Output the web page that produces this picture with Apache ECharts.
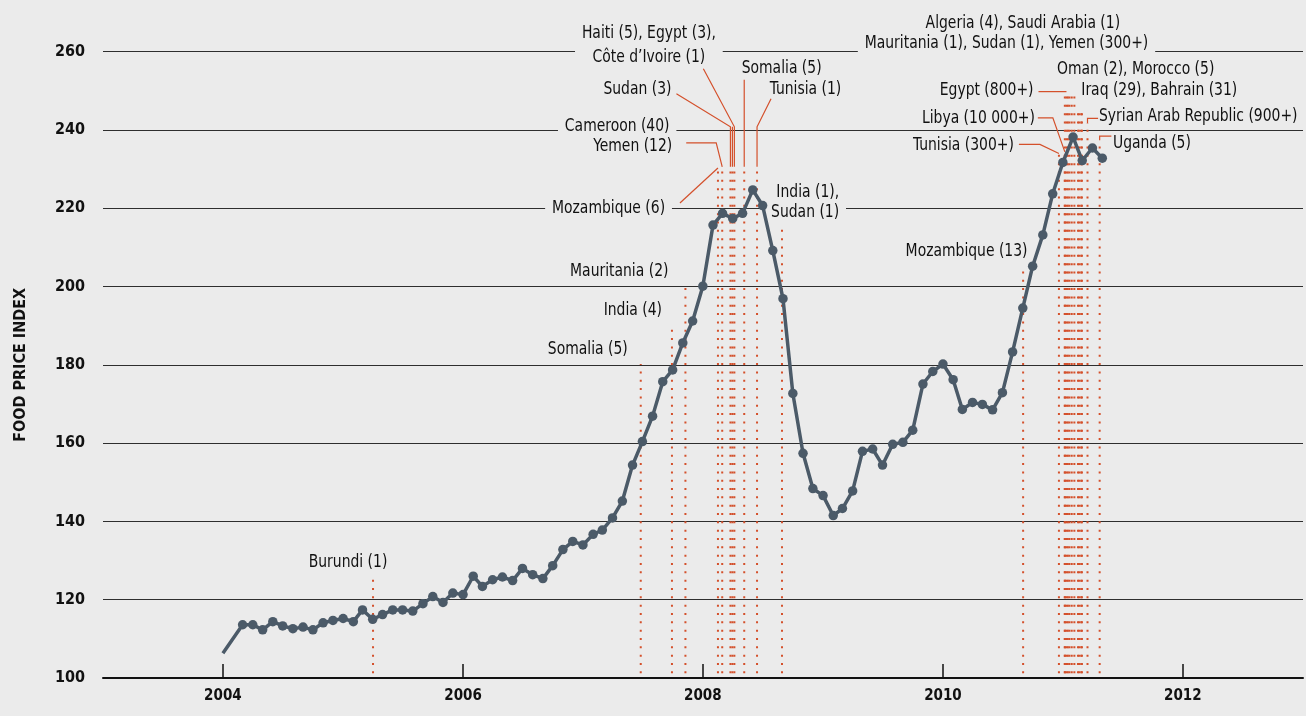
<!DOCTYPE html>
<html>
<head>
<meta charset="utf-8">
<script src="https://cdn.jsdelivr.net/npm/echarts@6/dist/echarts.min.js"></script>
<style>
html,body{margin:0;padding:0;background:#ebebeb;}
#c{width:1306px;height:716px;}
</style>
</head>
<body>
<div id="c"></div>
<script>
// ---------- DATA ----------
const foodMonths = [
  '2004-01','2004-03','2004-04','2004-05','2004-06','2004-07','2004-08','2004-09','2004-10','2004-11','2004-12',
  '2005-01','2005-02','2005-03','2005-04','2005-05','2005-06','2005-07','2005-08','2005-09','2005-10','2005-11','2005-12',
  '2006-01','2006-02','2006-03','2006-04','2006-05','2006-06','2006-07','2006-08','2006-09','2006-10','2006-11','2006-12',
  '2007-01','2007-02','2007-03','2007-04','2007-05','2007-06','2007-07','2007-08','2007-09','2007-10','2007-11','2007-12',
  '2008-01','2008-02','2008-03','2008-04','2008-05','2008-06','2008-07','2008-08','2008-09','2008-10','2008-11','2008-12',
  '2009-01','2009-02','2009-03','2009-04','2009-05','2009-06','2009-07','2009-08','2009-09','2009-10','2009-11','2009-12',
  '2010-01','2010-02','2010-03','2010-04','2010-05','2010-06','2010-07','2010-08','2010-09','2010-10','2010-11','2010-12',
  '2011-01','2011-02','2011-03','2011-04','2011-05'
];
const foodIndex = [
  106.3,113.6,113.6,112.3,114.4,113.3,112.6,113.0,112.3,114.1,114.7,
  115.2,114.4,117.4,115.0,116.2,117.4,117.4,117.1,119.0,120.8,119.3,121.7,
  121.3,126.0,123.4,125.1,125.8,124.9,128.0,126.4,125.4,128.7,132.8,134.9,
  134.0,136.7,137.8,140.9,145.2,154.4,160.4,166.9,175.7,178.7,185.6,191.2,
  200.1,215.7,218.7,217.4,218.7,224.7,220.7,209.2,196.9,172.7,157.4,148.4,
  146.6,141.5,143.3,147.8,157.9,158.5,154.4,159.7,160.2,163.3,175.1,178.3,
  180.2,176.2,168.6,170.4,169.9,168.5,172.9,183.3,194.5,205.2,213.2,223.7,
  231.7,238.2,232.2,235.4,232.8
];
const tickYears = [2004, 2006, 2008, 2010, 2012];
const yTicks = [100, 120, 140, 160, 180, 200, 220, 240, 260];

const riotLabels = [
  'Burundi (1)',
  'Somalia (5)',
  'India (4)',
  'Mauritania (2)',
  'Mozambique (6)',
  'Yemen (12)',
  'Sudan (3)',
  'Cameroon (40)',
  'Haiti (5), Egypt (3),\nCôte d’Ivoire (1)',
  'Somalia (5)',
  'Tunisia (1)',
  'India (1),\nSudan (1)',
  'Mozambique (13)',
  'Tunisia (300+)',
  'Libya (10 000+)',
  'Egypt (800+)',
  'Algeria (4), Saudi Arabia (1)',
  'Mauritania (1), Sudan (1), Yemen (300+)',
  'Oman (2), Morocco (5)',
  'Iraq (29), Bahrain (31)',
  'Syrian Arab Republic (900+)',
  'Uganda (5)'
];
const riotDates = [
  ['2005-04-02'],
  ['2007-06-26'],
  ['2007-09-29'],
  ['2007-11-09'],
  ['2008-02-16'],
  ['2008-02-29'],
  ['2008-03-25'],
  ['2008-03-31'],
  ['2008-04-06'],
  ['2008-05-06'],
  ['2008-06-14'],
  ['2008-08-29'],
  ['2010-09-02'],
  ['2010-12-20'],
  ['2011-01-07'],
  ['2011-01-12'],
  ['2011-01-07','2011-01-21'],
  ['2011-01-16','2011-01-28','2011-02-05'],
  ['2011-02-16','2011-02-26'],
  ['2011-02-20','2011-02-28'],
  ['2011-03-17'],
  ['2011-04-23']
];

// ---------- LAYOUT (annotation placement, pixels relative to line top) ----------
const riotLayout = [
  {top:125.3, dx:-25, dy:-17, align:'center'},
  {top:180.2, dx:-13, dy:-15, align:'right'},
  {top:190.3, dx:-10, dy:-14, align:'right'},
  {top:200.1, dx:-17, dy:-15, align:'right'},
  {top:230.3, dx:-46, dy:40, align:'right', bg:true, leader:[[-38,35]]},
  {top:230.6, dx:-50, dy:-20, align:'right', leader:[[-6,-24],[-36,-24]]},
  {top:230.6, dx:-59, dy:-77, align:'right', leader:[[0,-40],[-54,-73]]},
  {top:230.6, dx:-56, dy:-40, align:'right', bg:true, leader:[[0,-40]]},
  {top:230.6, dx:-85.5, dy:-121, align:'center', bg:true, lh:24, leader:[[0,-40],[-31,-98]]},
  {top:230.6, dx:37.4, dy:-98.4, align:'center', leader:[[0,-87]]},
  {top:230.6, dx:12.7, dy:-77, align:'left', leader:[[0,-40],[14,-68]]},
  {top:215.3, dx:64, dy:-24, align:'right', bg:true, lh:20},
  {top:205.1, dx:4.4, dy:-15, align:'right'},
  {top:234.0, dx:-45, dy:-8, align:'right', leader:[[-19,-9],[-40,-9]]},
  {top:234.4, dx:-30, dy:-34, align:'right', leader:[[-12,-34],[-27,-34]]},
  {top:249.8, dx:-33, dy:-1, align:'right', leader:[[-28,0]]},
  {top:249.8, dx:-42, dy:-68.4, align:'center', bg:true},
  {top:249.8, dx:-61.3, dy:-48.4, align:'center', bg:true},
  {top:245.1, dx:57.7, dy:-40.7, align:'center'},
  {top:244.6, dx:2, dy:-22, align:'left'},
  {top:241.7, dx:11.5, dy:-6.6, align:'left', leader:[[0,-5],[10.6,-5]]},
  {top:237.4, dx:13.3, dy:3.3, align:'left', leader:[[0,-4],[11.7,-4]]}
];

const FONT = "'Liberation Sans Narrow', 'DejaVu Sans Condensed', sans-serif";
const RED = '#d4502b';
const LINE = '#4b5a68';
const BG = '#ebebeb';
const BOTTOM = 101.2;
const LABEL_SQUEEZE = 0.86;

function parseDay(s) {
  const p = s.split('-').map(Number);
  return new Date(p[0], p[1] - 1, p[2] || 1).getTime();
}

const chart = echarts.init(document.getElementById('c'), null, {renderer: 'canvas'});

const lineData = foodMonths.map((m, i) => ({
  value: [parseDay(m), foodIndex[i]],
  symbol: i === 0 ? 'none' : 'circle'
}));

const riotData = riotLabels.map((_, i) => [parseDay(riotDates[i][0]), riotLayout[i].top, i]);

function renderRiot(params, api) {
  const i = params.dataIndex;
  const L = riotLayout[i];
  const children = [];
  const t0 = api.coord([parseDay(riotDates[i][0]), L.top]);
  children.push({
    type: 'text',
    x: t0[0] + L.dx,
    y: t0[1] + L.dy,
    scaleX: LABEL_SQUEEZE,
    style: {
      text: riotLabels[i],
      font: '18px ' + FONT,
      fill: '#111',
      align: L.align,
      verticalAlign: 'middle',
      lineHeight: L.lh || 20,
      backgroundColor: L.bg ? BG : null,
      padding: L.bg ? [0, 8] : 0
    }
  });
  riotDates[i].forEach(d => {
    const b = api.coord([parseDay(d), BOTTOM]);
    const t = api.coord([parseDay(d), L.top]);
    children.push({
      type: 'line',
      shape: {x1: b[0], y1: b[1], x2: t[0], y2: t[1]},
      style: {stroke: RED, lineWidth: 2, lineDash: [2, 6.33]}
    });
  });
  if (L.leader) {
    const pts = [[t0[0], t0[1]]].concat(L.leader.map(p => [t0[0] + p[0], t0[1] + p[1]]));
    children.push({
      type: 'polyline',
      shape: {points: pts},
      style: {stroke: RED, lineWidth: 1.2, fill: null}
    });
  }
  return {type: 'group', children: children};
}

const yearTicks = tickYears.map(y => parseDay(y + '-01-01'));

chart.setOption({
  animation: false,
  backgroundColor: BG,
  grid: {left: 103, right: 3, top: 51.7, bottom: 38, containLabel: false},
  xAxis: {
    type: 'value',
    min: parseDay('2003-01-01'),
    max: parseDay('2013-01-01'),
    axisLine: {show: true, lineStyle: {color: '#111', width: 2}},
    axisTick: {show: true, inside: true, length: 14, lineStyle: {color: '#111', width: 1.5}, customValues: yearTicks},
    axisLabel: {
      customValues: yearTicks,
      formatter: v => String(new Date(v).getFullYear()),
      fontFamily: FONT, fontSize: 15, fontWeight: 'bold', color: '#111', margin: 11
    },
    splitLine: {show: false}
  },
  yAxis: {
    type: 'value',
    min: yTicks[0],
    max: yTicks[yTicks.length - 1],
    interval: 20,
    name: 'FOOD PRICE INDEX',
    nameLocation: 'middle',
    nameRotate: 90,
    nameGap: 74,
    nameTextStyle: {fontFamily: FONT, fontSize: 16, fontWeight: 'bold', color: '#111'},
    axisLine: {show: false},
    axisTick: {show: false},
    axisLabel: {fontFamily: FONT, fontSize: 16, fontWeight: 'bold', color: '#111', margin: 18},
    splitLine: {show: true, lineStyle: {color: '#2e2e2e', width: 1}}
  },
  series: [
    {
      type: 'custom',
      renderItem: renderRiot,
      data: riotData,
      encode: {x: 0, y: 1},
      clip: false,
      z: 3,
      silent: true
    },
    {
      type: 'line',
      data: lineData,
      showSymbol: true,
      showAllSymbol: true,
      symbolSize: 9.5,
      lineStyle: {color: LINE, width: 3.5},
      itemStyle: {color: LINE},
      z: 5,
      silent: true
    }
  ]
});
</script>
</body>
</html>
